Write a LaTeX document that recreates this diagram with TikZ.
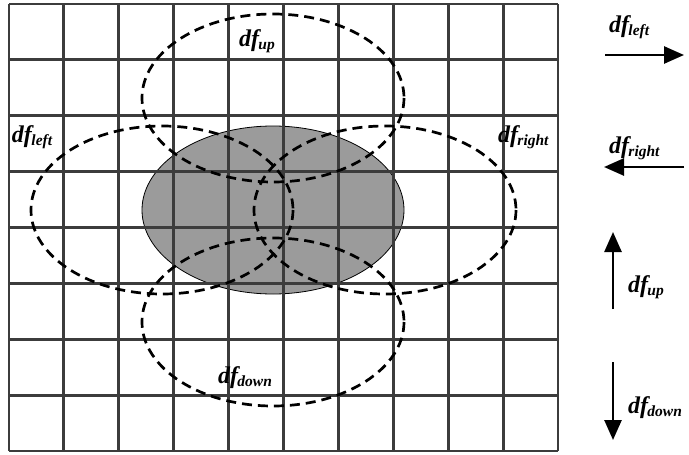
\documentclass[tikz,border=0pt]{standalone}
\usepackage{fontspec}
\setmainfont{Liberation Serif}
\usetikzlibrary{arrows.meta,shapes.geometric}
\definecolor{ellgray}{RGB}{155,155,155}
\definecolor{gridcol}{RGB}{60,60,60}
\newcommand{\dflab}[1]{{\fontsize{24}{24}\selectfont\bfseries\itshape df}\kern-0.5pt\raisebox{-3pt}{\fontsize{15.5}{15.5}\selectfont\bfseries\itshape #1}}
\begin{document}
\begin{tikzpicture}[x=1pt,y=-1pt,
  gridline/.style={draw=gridcol,line width=2.9pt},
  dashell/.style={draw=black,line width=2.7pt,dash pattern=on 10pt off 6pt},
  bigarrow/.style={draw=black,line width=2.6pt,-{Triangle[length=20pt,width=17pt]}},
  lab/.style={anchor=base west,inner sep=0pt,outer sep=0pt}]
\useasboundingbox (0,0) rectangle (689,455);
% shaded object
\node[draw=black,line width=0.8pt,fill=ellgray,ellipse,minimum width=262pt,minimum height=168pt,inner sep=0pt] (obj) at (273,210) {};
% grid
\foreach \i in {0,...,10} \draw[gridline] ({9+\i*54.9},4) -- ({9+\i*54.9},451);
\foreach \j in {0,...,8} \draw[gridline] (9,{4+\j*55.875}) -- (558,{4+\j*55.875});
% dashed displaced windows
\draw[dashell] (273,98) ellipse [x radius=131, y radius=84];
\draw[dashell] (273,322) ellipse [x radius=131, y radius=84];
\draw[dashell] (162,210) ellipse [x radius=131, y radius=84];
\draw[dashell] (385,210) ellipse [x radius=131, y radius=84];
% labels in grid
\node[lab] (lup) at (239,46) {\dflab{up}};
\node[lab] (lleft) at (12,142) {\dflab{left}};
\node[lab] (lright) at (498,142) {\dflab{right}};
\node[lab] (ldown) at (218,383) {\dflab{down}};
% legend
\node[lab] (kleft) at (609,32) {\dflab{left}};
\coordinate (a1s) at (605,55); \coordinate (a1e) at (684,55);
\draw[bigarrow] (a1s) -- (a1e);
\node[lab] (kright) at (609,153) {\dflab{right}};
\coordinate (a2s) at (684,167); \coordinate (a2e) at (604,167);
\draw[bigarrow] (a2s) -- (a2e);
\coordinate (a3s) at (613,309); \coordinate (a3e) at (613,232);
\draw[bigarrow] (a3s) -- (a3e);
\node[lab] (kup) at (628,292) {\dflab{up}};
\coordinate (a4s) at (613,362); \coordinate (a4e) at (613,440);
\draw[bigarrow] (a4s) -- (a4e);
\node[lab] (kdown) at (628,413) {\dflab{down}};
\end{tikzpicture}
\end{document}
